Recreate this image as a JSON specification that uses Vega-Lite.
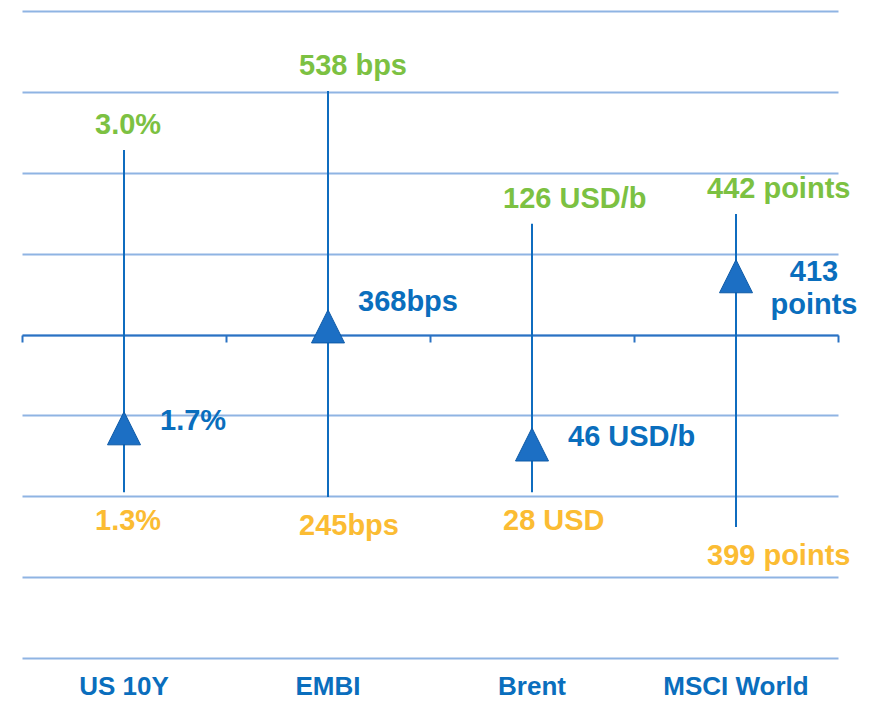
{
  "$schema": "https://vega.github.io/schema/vega-lite/v6.json",
  "width": 816,
  "height": 647,
  "autosize": {"type": "none"},
  "padding": {"left": 22, "top": 11, "right": 37, "bottom": 43},
  "config": {"view": {"stroke": null}, "font": "Liberation Sans"},
  "data": {
    "values": [
      {"market": "US 10Y", "low": 2.05, "high": 6.28, "current": 2.84, "low_label": "1.3%", "high_label": "3.0%", "current_label": "1.7%"},
      {"market": "EMBI", "low": 1.99, "high": 7.01, "current": 4.1, "low_label": "245bps", "high_label": "538 bps", "current_label": "368bps"},
      {"market": "Brent", "low": 2.05, "high": 5.37, "current": 2.64, "low_label": "28 USD", "high_label": "126 USD/b", "current_label": "46 USD/b"},
      {"market": "MSCI World", "low": 1.62, "high": 5.49, "current": 4.72, "low_label": "399 points", "high_label": "442 points", "current_label": "413\npoints"}
    ]
  },
  "resolve": {"axis": {"x": "independent"}},
  "layer": [
    {
      "mark": {"type": "rule", "color": "#0f6cbf", "strokeWidth": 2},
      "encoding": {
        "x": {"field": "market", "type": "nominal", "sort": null,
          "scale": {"paddingInner": 0, "paddingOuter": 0},
          "axis": {"orient": "bottom", "title": null, "domain": false, "ticks": false, "tickSize": 0, "grid": false,
            "labelAngle": 0, "labelPadding": 36, "labelBaseline": "alphabetic", "labelFontSize": 26, "labelFontWeight": "bold",
            "labelColor": "#0a6ebd", "labelFont": "Liberation Sans"}},
        "y": {"field": "low", "type": "quantitative",
          "scale": {"domain": [0, 8], "nice": false, "zero": false},
          "axis": {"title": null, "labels": false, "ticks": false, "domain": false, "grid": true,
            "values": [0, 1, 2, 3, 4, 5, 6, 7, 8], "gridColor": "#8fb4e3", "gridWidth": 2, "gridOpacity": 1}},
        "y2": {"field": "high"}
      }
    },
    {
      "mark": {"type": "point", "shape": "M0,-1L-1,1L1,1Z", "size": 1089, "filled": true, "fill": "#1c6fc4", "stroke": "#0d5aa7", "strokeWidth": 1, "opacity": 1},
      "encoding": {
        "x": {"field": "market", "type": "nominal", "sort": null,
          "axis": {"orient": "bottom", "offset": -323, "title": null, "labels": false, "grid": false,
            "domain": true, "domainColor": "#2a72c3", "domainWidth": 2,
            "ticks": true, "tickBand": "extent", "tickSize": 7, "tickColor": "#2a72c3", "tickWidth": 2}},
        "y": {"field": "current", "type": "quantitative"}
      }
    },
    {
      "mark": {"type": "text", "align": "left", "baseline": "alphabetic", "dx": -29, "dy": -16, "fontSize": 29, "fontWeight": "bold", "color": "#7cc142"},
      "encoding": {
        "x": {"field": "market", "type": "nominal", "sort": null, "axis": null},
        "y": {"field": "high", "type": "quantitative"},
        "text": {"field": "high_label"}
      }
    },
    {
      "mark": {"type": "text", "align": "left", "baseline": "alphabetic", "dx": -29, "dy": 38, "fontSize": 29, "fontWeight": "bold", "color": "#fbbc33"},
      "encoding": {
        "x": {"field": "market", "type": "nominal", "sort": null, "axis": null},
        "y": {"field": "low", "type": "quantitative"},
        "text": {"field": "low_label"}
      }
    },
    {
      "transform": [{"filter": "datum.market === 'US 10Y' || datum.market === 'Brent'"}],
      "mark": {"type": "text", "align": "left", "baseline": "alphabetic", "dx": 36, "dy": 2, "fontSize": 29, "fontWeight": "bold", "color": "#0a6ebd"},
      "encoding": {
        "x": {"field": "market", "type": "nominal", "sort": null, "axis": null},
        "y": {"field": "current", "type": "quantitative"},
        "text": {"field": "current_label"}
      }
    },
    {
      "transform": [{"filter": "datum.market === 'EMBI'"}],
      "mark": {"type": "text", "align": "left", "baseline": "alphabetic", "dx": 30, "dy": -15, "fontSize": 29, "fontWeight": "bold", "color": "#0a6ebd"},
      "encoding": {
        "x": {"field": "market", "type": "nominal", "sort": null, "axis": null},
        "y": {"field": "current", "type": "quantitative"},
        "text": {"field": "current_label"}
      }
    },
    {
      "transform": [{"filter": "datum.market === 'MSCI World'"}],
      "mark": {"type": "text", "align": "center", "baseline": "alphabetic", "dx": 78, "dy": 5, "lineBreak": "\n", "lineHeight": 33, "fontSize": 29, "fontWeight": "bold", "color": "#0a6ebd"},
      "encoding": {
        "x": {"field": "market", "type": "nominal", "sort": null, "axis": null},
        "y": {"field": "current", "type": "quantitative"},
        "text": {"field": "current_label"}
      }
    }
  ]
}
